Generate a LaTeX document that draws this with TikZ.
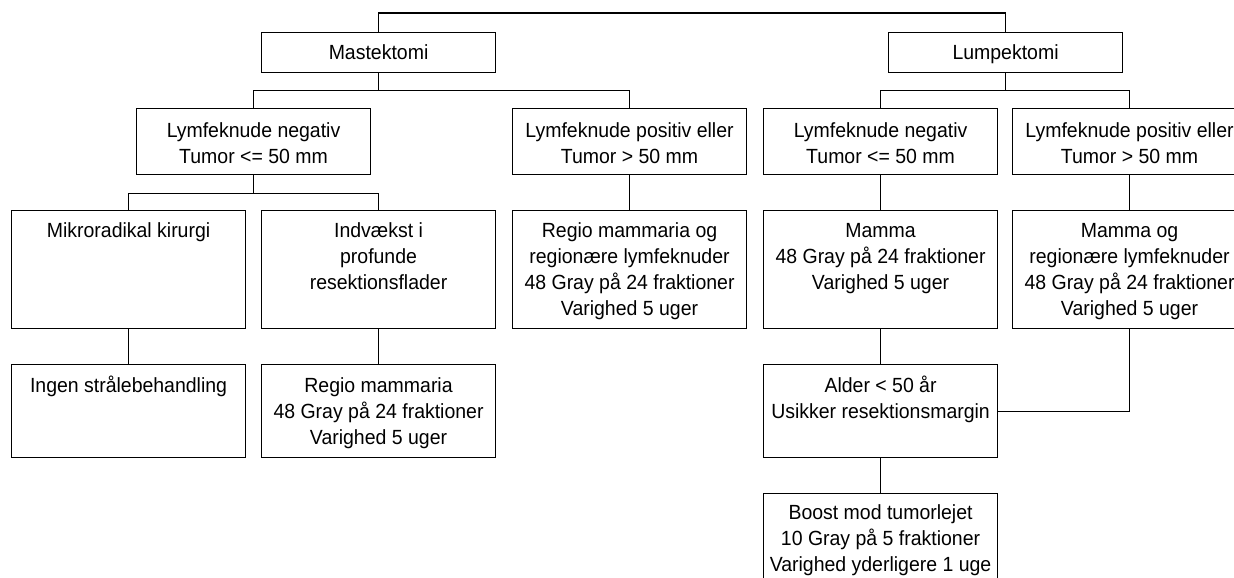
\documentclass[tikz,border=0pt]{standalone}
\usepackage{fontspec}
\setmainfont{Liberation Sans}[FakeStretch=0.95]
\begin{document}
\begin{tikzpicture}[x=1pt,y=-1pt,
  box/.style={draw, line width=1.1pt, minimum width=234pt, inner sep=0pt, anchor=north west},
  txt/.style={align=center, inner sep=0pt, anchor=north, font=\fontsize{20.5}{26}\selectfont},
  link/.style={draw, line width=1.1pt}]
\useasboundingbox (0,0) rectangle (1234,578);

% box with its text set from the top
\newcommand\tbox[6]{%
  \node[box, minimum height=#4pt] (#1) at (#2,#3) {};
  \node[txt] (#1-t) at ([yshift=-#5pt]#1.north) {\strut #6};}

% level 1
\tbox{mast}{261}{32}{40}{9}{Mastektomi}
\tbox{lump}{888}{32}{40}{9}{Lumpektomi}
% level 2
\tbox{mneg}{136}{108}{66}{11}{Lymfeknude negativ\\Tumor <= 50 mm}
\tbox{mpos}{512}{108}{66}{11}{Lymfeknude positiv eller\\Tumor > 50 mm}
\tbox{lneg}{763}{108}{66}{11}{Lymfeknude negativ\\Tumor <= 50 mm}
\tbox{lpos}{1012}{108}{66}{11}{Lymfeknude positiv eller\\Tumor > 50 mm}
% level 3
\tbox{mikro}{11}{210}{118}{9}{Mikroradikal kirurgi}
\tbox{indv}{261}{210}{118}{9}{Indvækst i\\profunde\\resektionsflader}
\tbox{regio}{512}{210}{118}{9}{Regio mammaria og\\regionære lymfeknuder\\48 Gray på 24 fraktioner\\Varighed 5 uger}
\tbox{mamma}{763}{210}{118}{9}{Mamma\\48 Gray på 24 fraktioner\\Varighed 5 uger}
\tbox{mammaog}{1012}{210}{118}{9}{Mamma og\\regionære lymfeknuder\\48 Gray på 24 fraktioner\\Varighed 5 uger}
% level 4
\tbox{ingen}{11}{364}{93}{10}{Ingen strålebehandling}
\tbox{regiom}{261}{364}{93}{10}{Regio mammaria\\48 Gray på 24 fraktioner\\Varighed 5 uger}
\tbox{alder}{763}{364}{93}{10}{Alder < 50 år\\Usikker resektionsmargin}
% level 5
\tbox{boost}{763}{493}{97}{8}{Boost mod tumorlejet\\10 Gray på 5 fraktioner\\Varighed yderligere 1 uge}

% junction points
\coordinate (top) at ([yshift=19pt]mast.north);
\coordinate (mj) at ([yshift=-17pt]mast.south);
\coordinate (lj) at ([yshift=-17pt]lump.south);
\coordinate (nj) at ([yshift=-18pt]mneg.south);

% connectors
\path[link] (mast.north) -- (top) -| (lump.north);
\path[link] (mast.south) -- (mj);
\path[link] (mneg.north) |- (mj) -| (mpos.north);
\path[link] (lump.south) -- (lj);
\path[link] (lneg.north) |- (lj) -| (lpos.north);
\path[link] (mneg.south) -- (nj);
\path[link] (mikro.north) |- (nj) -| (indv.north);
\path[link] (mpos.south) -- (regio.north);
\path[link] (lneg.south) -- (mamma.north);
\path[link] (lpos.south) -- (mammaog.north);
\path[link] (mikro.south) -- (ingen.north);
\path[link] (indv.south) -- (regiom.north);
\path[link] (mamma.south) -- (alder.north);
\path[link] (mammaog.south) |- (alder.east);
\path[link] (alder.south) -- (boost.north);
\end{tikzpicture}
\end{document}
